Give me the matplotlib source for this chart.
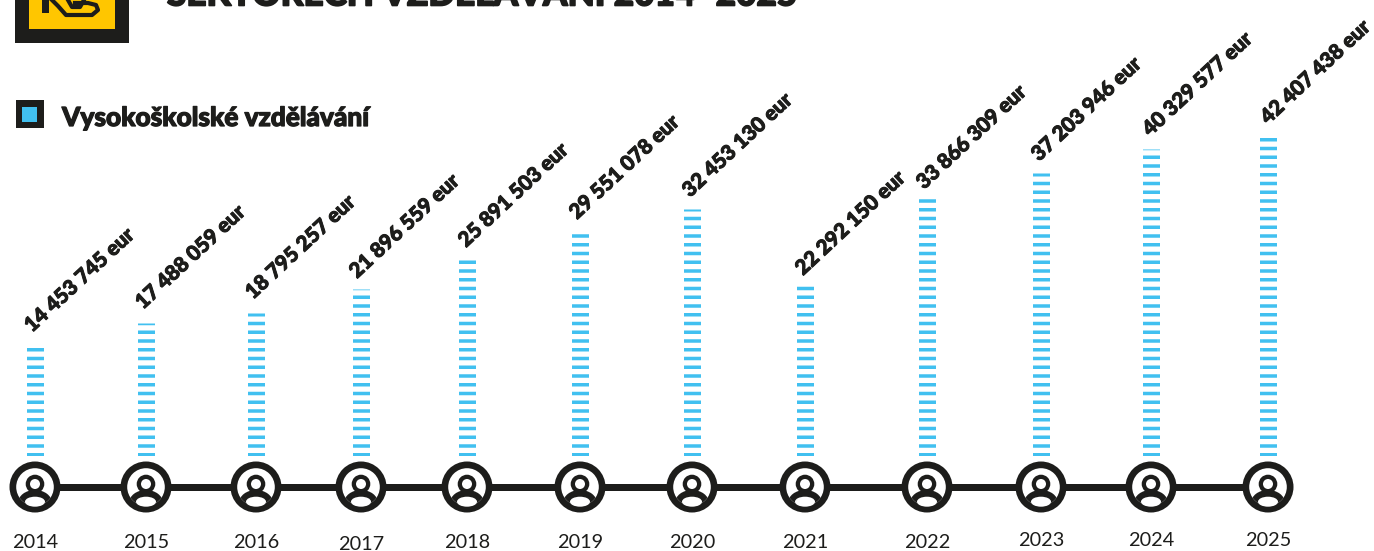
import matplotlib
matplotlib.use('Agg')
import matplotlib.pyplot as plt
import matplotlib.patheffects as pe
from matplotlib.patches import Circle, Ellipse, Rectangle

years = [2014, 2015, 2016, 2017, 2018, 2019, 2020, 2021, 2022, 2023, 2024, 2025]
values = [14453745, 17488059, 18795257, 21896559, 25891503, 29551078,
          32453130, 22292150, 33866309, 37203946, 40329577, 42407438]
value_labels = ['14 453 745 eur', '17 488 059 eur', '18 795 257 eur', '21 896 559 eur',
                '25 891 503 eur', '29 551 078 eur', '32 453 130 eur', '22 292 150 eur',
                '33 866 309 eur', '37 203 946 eur', '40 329 577 eur', '42 407 438 eur']
title = 'SEKTORECH VZDĚLÁVÁNÍ 2014–2025'
legend = 'Vysokoškolské vzdělávání'

# layout in pixels of the 1374x551 picture
x_pos = [35, 146, 256, 361, 467, 580, 692, 805, 927, 1041, 1151, 1268]
year_y = [543, 543, 543, 544, 543, 543, 543, 543, 543, 541, 541, 541]
label_x = [32, 143, 253, 357, 466, 577, 690, 803, 924, 1039, 1150, 1268]
label_y = [333, 310, 300, 279, 248, 220, 198, 276, 190, 162, 137, 125]
W, H = 1374, 551
BASE = 456
LINE_Y = 487
PX_PER_EUR = 7.62e-6

DARK = '#1d1d1b'
BLUE = '#41c0f0'
YELLOW = '#ffc600'

plt.rcParams['lines.scale_dashes'] = False
plt.rcParams['font.family'] = ['Lato', 'DejaVu Sans']

fig = plt.figure(figsize=(W / 100, H / 100), dpi=100)

# pixel axes for the furniture
ax = fig.add_axes([0, 0, 1, 1])
ax.set_xlim(0, W)
ax.set_ylim(H, 0)
ax.axis('off')

# value axes for the dashed columns, same x, zero on the base line
bar_ax = fig.add_axes([0, 1 - BASE / H, 1, BASE / H])
bar_ax.set_xlim(0, W)
bar_ax.set_ylim(0, BASE / PX_PER_EUR)
bar_ax.axis('off')
pt = 72 / 100
bar_ax.vlines(x_pos, 0, values, colors=BLUE, linewidth=17 * pt,
              linestyles=[(0, (3.5 * pt, 5.25 * pt))])
for col in bar_ax.collections:
    col.set_capstyle('butt')

heavy = [pe.withStroke(linewidth=0.7, foreground=DARK)]

# logo
ax.add_patch(Rectangle((15, -5), 114, 48, fc=DARK, ec='none'))
ax.add_patch(Rectangle((29, -5), 86, 34, fc=YELLOW, ec='none'))
ax.add_patch(Rectangle((42, -5), 7, 18, fc=DARK, ec='none'))
ax.plot([52, 58, 66, 92, 98, 96, 88, 75], [0, 6, 15, 15, 10, 5, 3, 3], color=DARK, lw=3)
ax.plot([68, 72, 80, 84], [0, 7, 7, 0], color=DARK, lw=3)

# title, cut off by the top edge
ax.text(167, 5.5, title, fontsize=25.3, fontweight='black', color=DARK, va='baseline',
        ha='left', path_effects=[pe.withStroke(linewidth=1.2, foreground=DARK)])

# legend
ax.add_patch(Rectangle((15.5, 100), 28, 28, fc=DARK, ec='none'))
ax.add_patch(Rectangle((22, 107), 15, 15, fc=BLUE, ec='none'))
ax.text(62, 126, legend, fontsize=18.9, fontweight='black', color=DARK, va='baseline',
        ha='left', path_effects=[pe.withStroke(linewidth=0.9, foreground=DARK)])

# timeline
ax.plot([x_pos[0], x_pos[-1]], [LINE_Y, LINE_Y], color=DARK, lw=7 * pt, zorder=1)

for i, x in enumerate(x_pos):
    ax.add_patch(Circle((x, LINE_Y), 25.5, fc=DARK, ec='none', zorder=2))
    inner = Circle((x, LINE_Y), 18.8, fc='white', ec='none', zorder=3)
    ax.add_patch(inner)
    body = Ellipse((x, LINE_Y + 16), 34, 26, fc=DARK, ec='none', zorder=4)
    ax.add_patch(body)
    body.set_clip_path(inner)
    hole = Ellipse((x, LINE_Y + 14.7), 20, 10, fc='white', ec='none', zorder=5)
    ax.add_patch(hole)
    ax.add_patch(Circle((x, LINE_Y - 3), 9.3, fc=DARK, ec='none', zorder=6))
    ax.add_patch(Circle((x, LINE_Y - 3), 5, fc='white', ec='none', zorder=7))

    ax.text(x, year_y[i], str(years[i]), fontsize=14.3, color=DARK, ha='center', va='center')
    ax.text(label_x[i], label_y[i], value_labels[i], fontsize=14.9, fontweight='black',
            color=DARK, rotation=43, rotation_mode='anchor', ha='left', va='baseline',
            path_effects=heavy)

fig.savefig('out.png', dpi=100)
